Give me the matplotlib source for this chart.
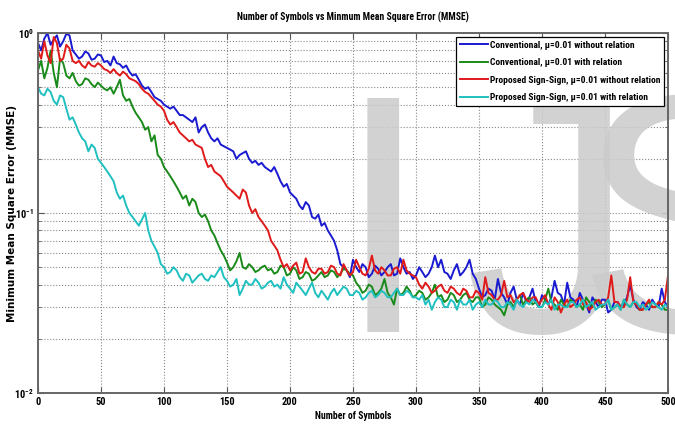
import numpy as np
import matplotlib
matplotlib.use('Agg')
import matplotlib.pyplot as plt
from matplotlib import font_manager
from matplotlib.ticker import LogLocator, NullFormatter

# symbols axis, sampled every 2.5 symbols
symbols = np.linspace(0, 500, 201)

conv_without = [0.88, 0.80, 0.93, 1.00, 0.86, 0.92, 0.97, 0.84, 0.90, 0.99,
                0.97, 0.80, 0.76, 0.72, 0.74, 0.79, 0.77, 0.71, 0.72, 0.76,
                0.75, 0.69, 0.70, 0.66, 0.74, 0.68, 0.67, 0.64, 0.66, 0.61,
                0.58, 0.59, 0.55, 0.51, 0.49, 0.50, 0.47, 0.44, 0.43, 0.42,
                0.40, 0.39, 0.38, 0.39, 0.37, 0.35, 0.35, 0.34, 0.33, 0.32,
                0.34, 0.28, 0.30, 0.31, 0.28, 0.26, 0.25, 0.26, 0.24, 0.235,
                0.23, 0.225, 0.22, 0.20, 0.21, 0.215, 0.22, 0.20, 0.19, 0.195,
                0.185, 0.19, 0.18, 0.175, 0.17, 0.18, 0.165, 0.15, 0.14, 0.145,
                0.13, 0.125, 0.12, 0.11, 0.105, 0.115, 0.11, 0.095, 0.093, 0.098,
                0.085, 0.088, 0.08, 0.075, 0.07, 0.062, 0.052, 0.05, 0.048, 0.044,
                0.055, 0.05, 0.047, 0.052, 0.05, 0.044, 0.046, 0.051, 0.049, 0.045,
                0.047, 0.05, 0.052, 0.045, 0.046, 0.056, 0.05, 0.046, 0.047, 0.043,
                0.045, 0.050, 0.047, 0.044, 0.046, 0.05, 0.058, 0.05, 0.055, 0.047,
                0.046, 0.043, 0.048, 0.052, 0.045, 0.047, 0.05, 0.055, 0.046, 0.043,
                0.038, 0.034, 0.035, 0.038, 0.037, 0.033, 0.043, 0.036, 0.034, 0.031,
                0.036, 0.039, 0.033, 0.031, 0.036, 0.032, 0.034, 0.038, 0.032, 0.030,
                0.035, 0.033, 0.031, 0.034, 0.042, 0.036, 0.035, 0.031, 0.041, 0.034,
                0.033, 0.030, 0.036, 0.033, 0.031, 0.028, 0.034, 0.032, 0.030, 0.033,
                0.033, 0.028, 0.029, 0.032, 0.032, 0.030, 0.031, 0.034, 0.040, 0.033,
                0.030, 0.029, 0.032, 0.031, 0.029, 0.033, 0.031, 0.030, 0.038, 0.032,
                0.030]

conv_with = [0.62, 0.70, 0.56, 0.64, 0.80, 0.60, 0.50, 0.72, 0.68, 0.58,
             0.56, 0.60, 0.54, 0.51, 0.52, 0.56, 0.55, 0.52, 0.50, 0.53,
             0.51, 0.49, 0.48, 0.50, 0.46, 0.50, 0.55, 0.45, 0.42, 0.43,
             0.39, 0.36, 0.34, 0.32, 0.29, 0.30, 0.25, 0.27, 0.21, 0.20,
             0.18, 0.17, 0.16, 0.15, 0.14, 0.13, 0.12, 0.125, 0.11, 0.12,
             0.115, 0.10, 0.095, 0.098, 0.09, 0.08, 0.075, 0.068, 0.062, 0.058,
             0.053, 0.048, 0.05, 0.054, 0.06, 0.05, 0.049, 0.052, 0.05, 0.047,
             0.048, 0.05, 0.051, 0.048, 0.049, 0.046, 0.047, 0.051, 0.05, 0.045,
             0.046, 0.05, 0.048, 0.043, 0.044, 0.047, 0.046, 0.042, 0.043, 0.045,
             0.047, 0.044, 0.045, 0.048, 0.047, 0.044, 0.046, 0.049, 0.048, 0.046,
             0.045, 0.041, 0.039, 0.036, 0.037, 0.040, 0.039, 0.035, 0.036, 0.038,
             0.043, 0.036, 0.034, 0.031, 0.038, 0.035, 0.036, 0.039, 0.037, 0.034,
             0.035, 0.037, 0.036, 0.033, 0.034, 0.036, 0.040, 0.034, 0.035, 0.032,
             0.033, 0.036, 0.035, 0.032, 0.033, 0.035, 0.036, 0.033, 0.032, 0.034,
             0.034, 0.030, 0.031, 0.034, 0.033, 0.031, 0.030, 0.029, 0.027, 0.031,
             0.032, 0.030, 0.033, 0.035, 0.031, 0.033, 0.034, 0.031, 0.032, 0.030,
             0.030, 0.033, 0.038, 0.032, 0.031, 0.029, 0.033, 0.031, 0.030, 0.033,
             0.032, 0.030, 0.031, 0.029, 0.034, 0.032, 0.030, 0.033, 0.032, 0.030,
             0.031, 0.033, 0.029, 0.030, 0.031, 0.029, 0.033, 0.031, 0.030, 0.032,
             0.031, 0.029, 0.029, 0.031, 0.032, 0.030, 0.030, 0.032, 0.031, 0.029,
             0.029]

prop_without = [0.80, 0.72, 0.90, 0.75, 0.68, 0.95, 0.88, 0.70, 0.72, 0.86,
                0.82, 0.70, 0.68, 0.70, 0.66, 0.64, 0.69, 0.66, 0.65, 0.68,
                0.66, 0.63, 0.62, 0.60, 0.63, 0.60, 0.58, 0.61, 0.59, 0.56,
                0.55, 0.54, 0.52, 0.49, 0.47, 0.46, 0.44, 0.42, 0.40, 0.39,
                0.37, 0.33, 0.31, 0.32, 0.30, 0.28, 0.27, 0.26, 0.25, 0.255,
                0.24, 0.235, 0.23, 0.20, 0.18, 0.185, 0.17, 0.165, 0.16, 0.15,
                0.14, 0.135, 0.13, 0.125, 0.12, 0.135, 0.13, 0.11, 0.10, 0.105,
                0.095, 0.09, 0.085, 0.08, 0.07, 0.066, 0.062, 0.055, 0.05, 0.052,
                0.048, 0.051, 0.053, 0.046, 0.047, 0.056, 0.05, 0.047, 0.046, 0.049,
                0.049, 0.046, 0.047, 0.051, 0.05, 0.046, 0.045, 0.052, 0.048, 0.045,
                0.047, 0.055, 0.05, 0.046, 0.045, 0.049, 0.058, 0.048, 0.046, 0.050,
                0.048, 0.045, 0.045, 0.049, 0.05, 0.046, 0.055, 0.048, 0.046, 0.045,
                0.044, 0.040, 0.038, 0.041, 0.039, 0.036, 0.037, 0.039, 0.04, 0.037,
                0.036, 0.039, 0.038, 0.036, 0.035, 0.038, 0.037, 0.034, 0.034, 0.037,
                0.036, 0.033, 0.044, 0.036, 0.035, 0.033, 0.033, 0.035, 0.042, 0.034,
                0.035, 0.032, 0.033, 0.035, 0.036, 0.033, 0.032, 0.034, 0.034, 0.031,
                0.033, 0.035, 0.031, 0.029, 0.034, 0.032, 0.028, 0.031, 0.033, 0.030,
                0.031, 0.033, 0.034, 0.031, 0.032, 0.029, 0.030, 0.032, 0.033, 0.031,
                0.031, 0.034, 0.045, 0.032, 0.032, 0.030, 0.030, 0.033, 0.044, 0.032,
                0.031, 0.029, 0.029, 0.031, 0.033, 0.030, 0.030, 0.032, 0.031, 0.033,
                0.045]

prop_with = [0.50, 0.46, 0.45, 0.49, 0.47, 0.42, 0.40, 0.45, 0.44, 0.38,
             0.33, 0.34, 0.31, 0.28, 0.26, 0.25, 0.22, 0.24, 0.23, 0.20,
             0.19, 0.18, 0.17, 0.16, 0.15, 0.13, 0.12, 0.125, 0.11, 0.10,
             0.095, 0.09, 0.085, 0.092, 0.10, 0.08, 0.07, 0.065, 0.06, 0.052,
             0.05, 0.046, 0.047, 0.05, 0.048, 0.044, 0.042, 0.046, 0.045, 0.041,
             0.043, 0.045, 0.046, 0.043, 0.042, 0.045, 0.044, 0.047, 0.05, 0.044,
             0.042, 0.039, 0.040, 0.043, 0.035, 0.038, 0.042, 0.040, 0.040, 0.043,
             0.041, 0.038, 0.039, 0.041, 0.042, 0.039, 0.040, 0.038, 0.044, 0.040,
             0.038, 0.036, 0.041, 0.039, 0.037, 0.035, 0.038, 0.041, 0.036, 0.034,
             0.037, 0.035, 0.033, 0.036, 0.038, 0.035, 0.037, 0.039, 0.038, 0.035,
             0.035, 0.037, 0.036, 0.033, 0.034, 0.036, 0.037, 0.034, 0.035, 0.037,
             0.036, 0.034, 0.034, 0.036, 0.038, 0.035, 0.035, 0.037, 0.036, 0.034,
             0.034, 0.033, 0.035, 0.031, 0.033, 0.029, 0.032, 0.034, 0.033, 0.030,
             0.030, 0.033, 0.032, 0.029, 0.033, 0.031, 0.031, 0.033, 0.029, 0.031,
             0.032, 0.030, 0.033, 0.031, 0.031, 0.033, 0.032, 0.030, 0.030, 0.032,
             0.031, 0.029, 0.033, 0.031, 0.030, 0.032, 0.031, 0.033, 0.032, 0.030,
             0.030, 0.032, 0.031, 0.033, 0.029, 0.031, 0.031, 0.030, 0.030, 0.032,
             0.032, 0.030, 0.031, 0.033, 0.030, 0.031, 0.032, 0.029, 0.030, 0.031,
             0.031, 0.033, 0.029, 0.030, 0.031, 0.029, 0.033, 0.031, 0.030, 0.032,
             0.032, 0.030, 0.031, 0.029, 0.030, 0.032, 0.031, 0.030, 0.029, 0.031,
             0.030]

labels = ['Conventional, \u03bc=0.01 without relation',
          'Conventional, \u03bc=0.01 with relation',
          'Proposed Sign-Sign, \u03bc=0.01 without relation',
          'Proposed Sign-Sign, \u03bc=0.01 with relation']
colors = ['#1a1ad0', '#1a8a1a', '#e01a1a', '#20c0c0']


def pick_narrow_font():
    # the original uses a condensed bold face; take whatever narrow face is installed
    entries = font_manager.fontManager.ttflist
    names = {f.name for f in entries}
    for name in ['Liberation Sans Narrow', 'Roboto Condensed', 'Open Sans Condensed',
                 'Noto Sans Condensed', 'Arial Narrow']:
        if name in names:
            return {'family': [name, 'DejaVu Sans']}
    for f in entries:
        if f.name in ('Roboto', 'Noto Sans', 'Open Sans', 'DejaVu Sans') and 'ondensed' in str(f.stretch):
            return {'family': [f.name, 'DejaVu Sans'], 'stretch': 'condensed'}
    return {'family': ['Liberation Sans', 'DejaVu Sans']}


narrow = pick_narrow_font()
small = 6.2 if narrow['family'][0] == 'Liberation Sans' else 7

fig = plt.figure(figsize=(6.75, 4.26), dpi=100)
ax = fig.add_axes([38 / 675, 33 / 426, 630 / 675, 360 / 426])

for series, lab, col in zip([conv_without, conv_with, prop_without, prop_with], labels, colors):
    ax.plot(symbols, series, color=col, lw=1.4, label=lab, zorder=2)

ax.set_yscale('log')
ax.set_xlim(0, 500)
ax.set_ylim(1e-2, 1)
ax.set_xticks(range(0, 501, 50))
ax.yaxis.set_minor_locator(LogLocator(base=10, subs=np.arange(2, 10)))
ax.yaxis.set_minor_formatter(NullFormatter())

ax.set_axisbelow(True)
ax.grid(True, which='major', axis='both', linestyle=':', color='#888888', lw=0.8)
ax.grid(True, which='minor', axis='y', linestyle=':', color='#888888', lw=0.8)
ax.tick_params(which='both', direction='in', top=True, right=True, color='#555555', pad=3)
ax.tick_params(which='major', length=4)
ax.tick_params(which='minor', length=2)
for sp in ax.spines.values():
    sp.set_color('#666666')
    sp.set_linewidth(1.4)

for lbl in ax.get_xticklabels() + ax.get_yticklabels():
    lbl.set_fontproperties(font_manager.FontProperties(weight='bold', size=small + 0.5, **narrow))

ax.set_title('Number of Symbols vs Minmum Mean Square Error (MMSE)',
             fontweight='bold', fontsize=small, pad=9, **narrow)
ax.set_xlabel('Number of Symbols', fontweight='bold', fontsize=small, labelpad=3, **narrow)
ax.set_ylabel('Minimum Mean Square Error (MMSE)', fontweight='bold', fontsize=7.5)
ax.yaxis.set_label_coords(-0.034, 0.5)

# watermark letters
for ch, xp in [('I', 383), ('J', 550), ('S', 690)]:
    ax.text(xp / 675, (426 - 332) / 426, ch, transform=fig.transFigure,
            fontsize=245, family='Liberation Sans', color='#cbcbcb', alpha=0.85,
            ha='center', va='baseline', zorder=1.5)

leg = ax.legend(loc='upper right', fancybox=False, edgecolor='black', framealpha=1,
                prop=font_manager.FontProperties(weight='bold', size=small - 0.2, **narrow),
                handlelength=3.0, handletextpad=0.2, borderaxespad=0.4, labelspacing=0.9)
leg.get_frame().set_linewidth(0.9)

fig.savefig('out.png', dpi=100)
